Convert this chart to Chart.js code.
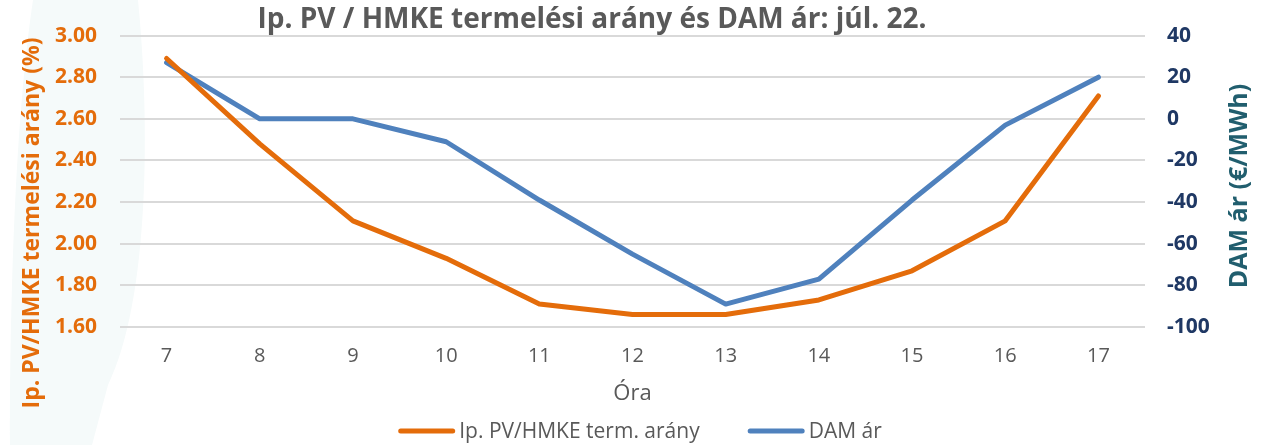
<!DOCTYPE html>
<html><head><meta charset="utf-8">
<script src="https://cdn.jsdelivr.net/npm/chart.js@4.4.1/dist/chart.umd.min.js"></script>
<style>html,body{margin:0;padding:0;background:#fff}#wrap{width:1266px;height:445px;position:relative}</style>
</head><body><div id="wrap"><canvas id="c" width="1266" height="445"></canvas></div>
<script>
const chartTitle = 'Ip. PV / HMKE termelési arány és DAM ár: júl. 22.';
const categories = ['7','8','9','10','11','12','13','14','15','16','17'];
const pvRatio = [2.89, 2.48, 2.11, 1.93, 1.71, 1.66, 1.66, 1.73, 1.87, 2.11, 2.71];
const damPrice = [27, 0, 0, -11, -39, -65, -89, -77, -39, -3, 20];
const leftAxisTitle = 'Ip. PV/HMKE termelési arány (%)';
const rightAxisTitle = 'DAM ár (€/MWh)';
const xAxisTitle = 'Óra';
const seriesNames = ['Ip. PV/HMKE term. arány', 'DAM ár'];

const ORANGE = '#E46C0A', BLUE = '#4F81BD', NAVY = '#1F3864', TEAL = '#215E6E', GRAY = '#595959';
const FONT = "'Open Sans', sans-serif";

const bgDeco = {
  id: 'bgDeco',
  beforeDraw(chart) {
    const ctx = chart.ctx;
    ctx.save();
    ctx.fillStyle = '#F5FAFA';
    ctx.beginPath();
    ctx.moveTo(33, 0);
    ctx.lineTo(138, 0);
    ctx.bezierCurveTo(150, 120, 150, 300, 108, 385);
    ctx.lineTo(92, 445);
    ctx.lineTo(10, 445);
    ctx.bezierCurveTo(10, 300, 15, 120, 33, 0);
    ctx.closePath();
    ctx.fill();
    ctx.restore();
  }
};

const customText = {
  id: 'customText',
  afterDraw(chart) {
    const ctx = chart.ctx;
    ctx.save();
    ctx.fillStyle = GRAY;
    ctx.font = "bold 28px " + FONT;
    ctx.textAlign = 'center'; ctx.textBaseline = 'middle';
    ctx.fillText(chartTitle, 592, 20);
    ctx.restore();

    ctx.save();
    ctx.font = "bold 23px " + FONT;
    ctx.fillStyle = ORANGE;
    ctx.textAlign = 'center'; ctx.textBaseline = 'middle';
    ctx.translate(32, 223); ctx.rotate(-Math.PI/2);
    ctx.fillText(leftAxisTitle, 0, 0);
    ctx.restore();

    ctx.save();
    ctx.font = "bold 25px " + FONT;
    ctx.fillStyle = TEAL;
    ctx.textAlign = 'center'; ctx.textBaseline = 'middle';
    ctx.translate(1240, 186); ctx.rotate(-Math.PI/2);
    ctx.fillText(rightAxisTitle, 0, 0);
    ctx.restore();

    // legend
    ctx.save();
    ctx.font = "21px " + FONT;
    ctx.textBaseline = 'middle'; ctx.textAlign = 'left';
    const colors = [ORANGE, BLUE];
    const lineW = 57, gap = 4, spacing = 48;
    const widths = seriesNames.map(t => ctx.measureText(t).width);
    const total = widths.reduce((a, w) => a + lineW + gap + w, 0) + spacing * (seriesNames.length - 1);
    let x = 640 - total / 2;
    const y = 431;
    seriesNames.forEach((t, i) => {
      ctx.strokeStyle = colors[i]; ctx.lineWidth = 5; ctx.lineCap = 'round';
      ctx.beginPath(); ctx.moveTo(x + 2.5, y); ctx.lineTo(x + lineW - 2.5, y); ctx.stroke();
      ctx.fillStyle = GRAY;
      ctx.fillText(t, x + lineW + gap, y + 1);
      x += lineW + gap + widths[i] + spacing;
    });
    ctx.restore();
  }
};

new Chart(document.getElementById('c'), {
  type: 'line',
  data: {
    labels: categories,
    datasets: [
      { label: seriesNames[0], data: pvRatio, yAxisID: 'y', borderColor: ORANGE, backgroundColor: ORANGE, borderWidth: 5, pointRadius: 0, tension: 0, borderCapStyle: 'round', borderJoinStyle: 'round' },
      { label: seriesNames[1], data: damPrice, yAxisID: 'y1', borderColor: BLUE, backgroundColor: BLUE, borderWidth: 5, pointRadius: 0, tension: 0, borderCapStyle: 'round', borderJoinStyle: 'round' }
    ]
  },
  options: {
    responsive: false, animation: false, devicePixelRatio: 1,
    layout: { padding: { top: 35, left: 0, right: 0, bottom: 35 } },
    plugins: {
      title: { display: false },
      tooltip: { enabled: false },
      legend: { display: false }
    },
    scales: {
      x: {
        offset: true,
        afterFit(s) { s.height = 83; },
        grid: { display: false, drawTicks: false },
        border: { display: false },
        ticks: { color: GRAY, font: { family: FONT, size: 20 }, padding: 17, maxRotation: 0 },
        title: { display: true, text: xAxisTitle, color: GRAY, font: { family: FONT, size: 22 }, padding: { top: 0, bottom: 3 } }
      },
      y: {
        position: 'left', min: 1.6, max: 3.0,
        afterFit(s) { s.width = 120; },
        grid: { color: '#D9D9D9', lineWidth: 2, drawTicks: false },
        border: { display: false },
        ticks: { stepSize: 0.2, color: ORANGE, font: { family: FONT, size: 21, weight: 'bold' }, padding: 23, callback: v => v.toFixed(2) }
      },
      y1: {
        position: 'right', min: -100, max: 40,
        afterFit(s) { s.width = 121; },
        grid: { drawOnChartArea: false, drawTicks: false },
        border: { display: false },
        ticks: { stepSize: 20, color: NAVY, font: { family: FONT, size: 21, weight: 'bold' }, padding: 22 }
      }
    }
  },
  plugins: [bgDeco, customText]
});
</script></body></html>
